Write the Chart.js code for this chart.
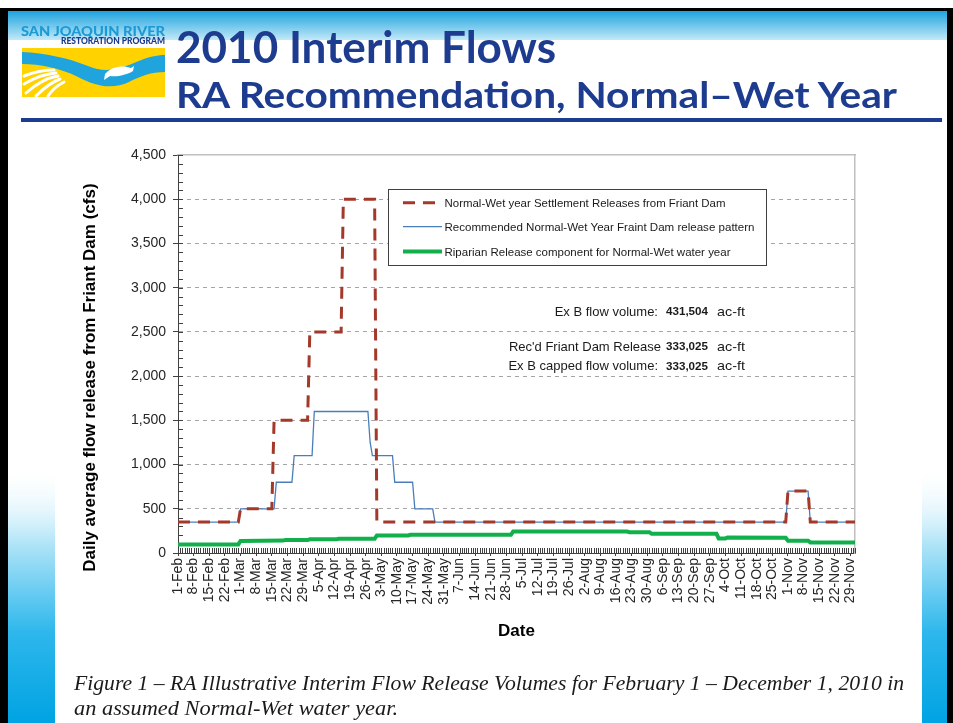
<!DOCTYPE html>
<html>
<head>
<meta charset="utf-8">
<script src="https://cdn.jsdelivr.net/npm/chart.js@4.4.1/dist/chart.umd.min.js"></script>
<style>
html,body{margin:0;padding:0;background:#fff;}
#page{position:relative;width:953px;height:723px;overflow:hidden;background:#fff;}
#chart{position:absolute;left:0;top:0;}
#ov{position:absolute;left:0;top:0;pointer-events:none;}
</style>
</head>
<body>
<div id="page">
<canvas id="chart" width="953" height="723"></canvas>
<svg id="ov" width="953" height="723" xmlns="http://www.w3.org/2000/svg">
  <defs>
    <linearGradient id="gBand" x1="0" y1="0" x2="0" y2="1">
      <stop offset="0" stop-color="#1ea3de"/>
      <stop offset="1" stop-color="#c2e9f8"/>
    </linearGradient>
    <linearGradient id="gSide" x1="0" y1="0" x2="0" y2="1">
      <stop offset="0" stop-color="#ffffff" stop-opacity="0"/>
      <stop offset="0.3" stop-color="#b2e5f8"/>
      <stop offset="0.65" stop-color="#2db7ec"/>
      <stop offset="1" stop-color="#00a3e3"/>
    </linearGradient>
  </defs>
  <!-- slide frame and background bands -->
  <rect x="0" y="8" width="953" height="3" fill="#000"/>
  <rect x="0" y="8" width="8" height="715" fill="#000"/>
  <rect x="947" y="8" width="6" height="715" fill="#000"/>
  <rect x="8" y="11" width="939" height="29" fill="url(#gBand)"/>
  <rect x="8" y="465" width="47" height="258" fill="url(#gSide)"/>
  <rect x="922" y="465" width="25" height="258" fill="url(#gSide)"/>
  <!-- logo -->
  <text x="21" y="35.5" font-family="Lato" font-weight="900" font-size="13.5" fill="#1b9ad6" textLength="144" lengthAdjust="spacingAndGlyphs">SAN JOAQUIN RIVER</text>
  <text x="61" y="44" font-family="Lato" font-weight="900" font-size="8.5" fill="#1d3a8a" textLength="104" lengthAdjust="spacingAndGlyphs">RESTORATION PROGRAM</text>
  <rect x="22" y="48" width="143" height="49" fill="#ffd200"/>
  <path d="M22,52 C45,53 68,58 88,66 C104,73 118,70 134,63 C147,57 157,55 165,55 L165,72 C151,72 141,76 129,82 C112,90 95,86 78,77 C60,68 40,64 22,64 Z" fill="#1fa4de"/>
  <path d="M106,73 C112,66 124,65 131,68 L134,66 L133,71 C127,75 117,77 110,76 L104,80 L105,74 Z" fill="#ffffff"/>
  <g stroke="#ffffff" stroke-width="3" stroke-linecap="round" fill="none">
    <path d="M24,76 C34,72 44,70 54,70"/>
    <path d="M24,84 C34,78 44,74 56,73"/>
    <path d="M26,93 C36,84 46,78 58,76"/>
    <path d="M36,96 C44,88 52,82 60,79"/>
    <path d="M48,96 C52,90 58,85 64,82"/>
  </g>
  <!-- title -->
  <text x="176" y="63" font-family="Lato" font-weight="bold" font-size="43" fill="#1e3c8f" textLength="380" lengthAdjust="spacingAndGlyphs">2010 Interim Flows</text>
  <text x="176" y="108" font-family="Lato" font-weight="bold" font-size="37" fill="#1e3c8f" textLength="721" lengthAdjust="spacingAndGlyphs">RA Recommendation, Normal–Wet Year</text>
  <rect x="21" y="118" width="921" height="4" fill="#1e3c8f"/>
  <!-- legend (filled from the chart datasets) -->
  <g id="legend"></g>
  <!-- volume notes -->
  <g font-family="Liberation Sans, Arial, sans-serif" fill="#1a1a1a">
    <text x="658" y="316" font-size="13" text-anchor="end">Ex B flow volume:</text>
    <text x="666" y="315" font-size="10.5" font-weight="bold" textLength="42" lengthAdjust="spacingAndGlyphs">431,504</text>
    <text x="717" y="316" font-size="13" textLength="28" lengthAdjust="spacingAndGlyphs">ac-ft</text>
    <text x="661" y="350.5" font-size="13" text-anchor="end">Rec'd Friant Dam Release</text>
    <text x="666" y="350" font-size="10.5" font-weight="bold" textLength="42" lengthAdjust="spacingAndGlyphs">333,025</text>
    <text x="717" y="350.5" font-size="13" textLength="28" lengthAdjust="spacingAndGlyphs">ac-ft</text>
    <text x="658" y="370" font-size="13" text-anchor="end">Ex B capped flow volume:</text>
    <text x="666" y="369.5" font-size="10.5" font-weight="bold" textLength="42" lengthAdjust="spacingAndGlyphs">333,025</text>
    <text x="717" y="370" font-size="13" textLength="28" lengthAdjust="spacingAndGlyphs">ac-ft</text>
  </g>
  <!-- caption -->
  <g font-family="Liberation Serif, serif" font-style="italic" font-size="21" fill="#1a1a1a">
    <text x="74" y="690" textLength="830" lengthAdjust="spacingAndGlyphs">Figure 1 – RA Illustrative Interim Flow Release Volumes for February 1 – December 1, 2010 in</text>
    <text x="74" y="715" textLength="324" lengthAdjust="spacingAndGlyphs">an assumed Normal-Wet water year.</text>
  </g>
</svg>
</div>
<script>
// ---- data (day index 0 = 1-Feb-2010, 303 = 1-Dec-2010) ----
const tickLabels = ["1-Feb","8-Feb","15-Feb","22-Feb","1-Mar","8-Mar","15-Mar","22-Mar","29-Mar","5-Apr","12-Apr","19-Apr","26-Apr","3-May","10-May","17-May","24-May","31-May","7-Jun","14-Jun","21-Jun","28-Jun","5-Jul","12-Jul","19-Jul","26-Jul","2-Aug","9-Aug","16-Aug","23-Aug","30-Aug","6-Sep","13-Sep","20-Sep","27-Sep","4-Oct","11-Oct","18-Oct","25-Oct","1-Nov","8-Nov","15-Nov","22-Nov","29-Nov"];
const yTickValues = [0,500,1000,1500,2000,2500,3000,3500,4000,4500];

const settlementLabel = "Normal-Wet year Settlement Releases from  Friant Dam";
const settlementDay = [0,27,28,42,43,58,59,73,74,88,89,272,273,282,283,303];
const settlementCfs = [350,350,500,500,1500,1500,2500,2500,4000,4000,350,350,700,700,350,350];

const recommendedLabel = "Recommended Normal-Wet Year Fraint Dam release pattern";
const recommendedDay = [0,27,28,43,44,51,52,60,61,85,86,87,96,97,105,106,114,115,272,273,282,283,303];
const recommendedCfs = [350,350,500,500,800,800,1100,1100,1600,1600,1250,1100,1100,800,800,500,500,350,350,700,700,350,350];

const riparianLabel = "Riparian Release component for Normal-Wet water year";
const riparianDay = [0,27,28,47,48,58,59,71,72,88,89,103,104,149,150,201,202,211,212,241,242,245,246,272,273,282,283,303];
const riparianCfs = [97,97,137,140,146,146,155,155,160,160,198,198,206,206,243,243,236,236,217,217,165,165,176,172,139,139,120,118];

const pts = (xs, ys) => xs.map((d, i) => ({x: d, y: ys[i]}));

const minorTicks = {
  id: 'minorTicks',
  beforeDatasetsDraw(chart) {
    const {ctx, chartArea, scales} = chart;
    const x = scales.x, y = scales.y;
    ctx.save();
    ctx.strokeStyle = '#404040';
    ctx.lineWidth = 1;
    ctx.beginPath();
    for (let d = x.min; d <= x.max; d++) {
      const px = Math.round(x.getPixelForValue(d)) + 0.5;
      ctx.moveTo(px, chartArea.bottom);
      ctx.lineTo(px, chartArea.bottom - 5);
    }
    for (let v = y.min; v <= y.max; v += 100) {
      const py = Math.round(y.getPixelForValue(v)) + 0.5;
      ctx.moveTo(chartArea.left, py);
      ctx.lineTo(chartArea.left + 5, py);
    }
    ctx.stroke();
    ctx.restore();
  }
};

Chart.defaults.font.family = "'Liberation Sans', Arial, sans-serif";
Chart.defaults.color = '#262626';

const chart = new Chart(document.getElementById('chart'), {
  type: 'line',
  data: {
    datasets: [
      {label: settlementLabel, data: pts(settlementDay, settlementCfs), borderColor: '#a3392b', borderWidth: 3, borderDash: [12, 8], fill: false},
      {label: recommendedLabel, data: pts(recommendedDay, recommendedCfs), borderColor: '#4a7ebb', borderWidth: 1.3, fill: false},
      {label: riparianLabel, data: pts(riparianDay, riparianCfs), borderColor: '#12b04b', borderWidth: 4, fill: false}
    ]
  },
  plugins: [minorTicks],
  options: {
    responsive: false,
    animation: false,
    devicePixelRatio: 1,
    layout: {padding: {left: 78, right: 98, top: 155, bottom: 73}},
    elements: {point: {radius: 0}, line: {tension: 0}},
    plugins: {legend: {display: false}, tooltip: {enabled: false}},
    scales: {
      x: {
        type: 'linear', position: 'bottom', min: 0, max: 303,
        afterFit: s => { s.height = 97; },
        ticks: {stepSize: 7, autoSkip: false, includeBounds: false, maxRotation: 90, minRotation: 90, padding: 2,
                font: {size: 14}, color: '#262626', callback: v => tickLabels[Math.round(v / 7)]},
        grid: {drawOnChartArea: false, tickLength: 3, tickColor: '#404040'},
        border: {color: '#404040', width: 1},
        title: {display: true, text: 'Date', color: '#000', font: {size: 17, weight: 'bold'}, padding: {top: 0, bottom: 8}}
      },
      x2: {
        type: 'linear', position: 'top', min: 0, max: 303,
        afterFit: s => { s.height = 0; },
        ticks: {display: false}, grid: {display: false},
        border: {color: '#bfbfbf', width: 1.5}
      },
      y: {
        type: 'linear', position: 'left', min: 0, max: 4500,
        afterFit: s => { s.width = 100; },
        afterBuildTicks: s => { s.ticks = yTickValues.map(v => ({value: v})); },
        ticks: {padding: 7, font: {size: 14}, color: '#262626', callback: v => v.toLocaleString('en-US')},
        grid: {
          color: c => (c.tick && (c.tick.value === 0 || c.tick.value === 4500)) ? 'rgba(0,0,0,0)' : '#a6a6a6',
          tickLength: 5, tickColor: '#404040'
        },
        border: {color: '#404040', width: 1, dash: [4, 4]},
        title: {display: true, text: 'Daily average flow release from Friant Dam (cfs)' + '\u00a0'.repeat(10), color: '#000',
                font: {size: 17, weight: 'bold'}, padding: {top: 2, bottom: 0}}
      },
      y2: {
        type: 'linear', position: 'right', min: 0, max: 4500,
        afterFit: s => { s.width = 0; },
        ticks: {display: false}, grid: {display: false},
        border: {color: '#bfbfbf', width: 1.5}
      }
    }
  }
});

// ---- boxed legend built from the chart's datasets ----
(function buildLegend() {
  const NS = 'http://www.w3.org/2000/svg';
  const g = document.getElementById('legend');
  const mk = (tag, attrs) => { const e = document.createElementNS(NS, tag); for (const k in attrs) e.setAttribute(k, attrs[k]); g.appendChild(e); return e; };
  mk('rect', {x: 388.5, y: 189.5, width: 378, height: 76, fill: '#fff', stroke: '#404040', 'stroke-width': 1});
  const rowY = [202.7, 226.7, 251.5];
  const textLen = [281, 310, 286];
  chart.data.datasets.forEach((ds, i) => {
    const ln = mk('line', {x1: 403, x2: 442, y1: rowY[i], y2: rowY[i], stroke: ds.borderColor, 'stroke-width': ds.borderWidth});
    if (ds.borderDash) ln.setAttribute('stroke-dasharray', ds.borderDash.join(' '));
    const t = mk('text', {x: 444.5, y: rowY[i] + 4, 'font-family': 'Liberation Sans, Arial, sans-serif', 'font-size': 11, fill: '#1a1a1a',
                          textLength: textLen[i], lengthAdjust: 'spacingAndGlyphs'});
    t.setAttribute('xml:space', 'preserve');
    t.textContent = ds.label;
  });
})();
</script>
</body>
</html>
